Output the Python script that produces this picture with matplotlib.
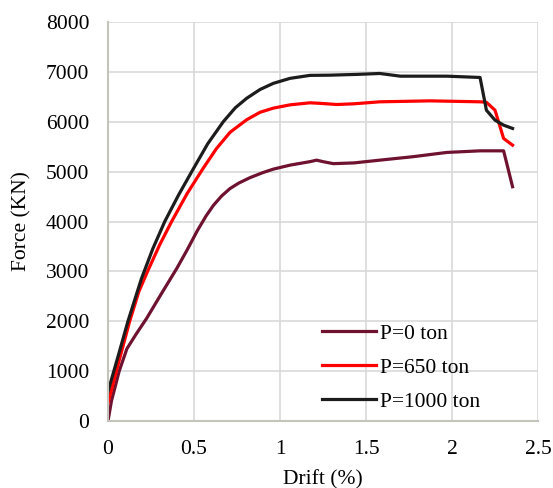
import matplotlib
matplotlib.use('Agg')
import matplotlib.pyplot as plt

# drift (%) and force (kN)
drift_p0 = [0, 0.02, 0.065, 0.11, 0.165, 0.225, 0.31, 0.40, 0.46, 0.52, 0.57, 0.612,
            0.66, 0.709, 0.76, 0.826, 0.9, 0.961, 1.058, 1.174, 1.213, 1.25, 1.31, 1.43,
            1.58, 1.775, 1.97, 2.163, 2.30, 2.352]
force_p0 = [0, 400, 1000, 1450, 1750, 2060, 2550, 3060, 3430, 3820, 4110, 4320,
            4510, 4660, 4770, 4880, 4980, 5050, 5130, 5200, 5230, 5200, 5160, 5175,
            5230, 5300, 5385, 5417, 5417, 4697]

drift_p650 = [0, 0.06, 0.126, 0.18, 0.23, 0.30, 0.37, 0.46, 0.55, 0.63, 0.71, 0.806,
              0.884, 0.961, 1.058, 1.174, 1.23, 1.33, 1.43, 1.58, 1.872, 2.163, 2.2,
              2.25, 2.30, 2.352]
force_p650 = [360, 1150, 2000, 2600, 3000, 3530, 4000, 4560, 5050, 5460, 5790, 6040,
              6190, 6273, 6339, 6380, 6370, 6346, 6360, 6400, 6419, 6400, 6390,
              6232, 5665, 5531]

drift_p1000 = [0, 0.058, 0.116, 0.194, 0.26, 0.33, 0.41, 0.49, 0.58, 0.67, 0.74, 0.806,
               0.884, 0.961, 1.058, 1.174, 1.29, 1.45, 1.58, 1.70, 1.97, 2.163, 2.2,
               2.25, 2.30, 2.352]
force_p1000 = [590, 1290, 2000, 2850, 3450, 4000, 4530, 5020, 5560, 6000, 6280, 6470,
               6647, 6770, 6870, 6930, 6934, 6950, 6968, 6914, 6914, 6888, 6232,
               6032, 5932, 5866]

labels = ['P=0 ton', 'P=650 ton', 'P=1000 ton']
colors = ['#6e1230', '#ff0000', '#1c1c1c']

plt.rcParams['font.family'] = ['Liberation Serif', 'DejaVu Serif']
plt.rcParams['font.size'] = 15.5

fig = plt.figure(figsize=(5.53, 4.88), dpi=100)
ax = fig.add_axes([0.1953, 0.1373, 0.7776, 0.8176])

series = [(drift_p0, force_p0), (drift_p650, force_p650), (drift_p1000, force_p1000)]
for (x, y), lab, c in zip(series, labels, colors):
    ax.plot(x, y, color=c, lw=2.3, label=lab, solid_joinstyle='round')

ax.set_xlim(0, 2.5)
ax.set_ylim(0, 8000)
ax.set_xticks([0, 0.5, 1, 1.5, 2, 2.5])
ax.set_xticklabels(['0', '0.5', '1', '1.5', '2', '2.5'])
ax.set_yticks(range(0, 8001, 1000))
ax.grid(True, color='#d9d9d9', lw=1.2)
ax.set_axisbelow(True)
ax.tick_params(axis='y', length=0, pad=13.5)
ax.tick_params(axis='x', length=0, pad=14)
for s in ['top', 'right']:
    ax.spines[s].set_visible(False)
for s in ['left', 'bottom']:
    ax.spines[s].set_color('#c4c4bc')
    ax.spines[s].set_linewidth(1.5)

ax.set_xlabel('Drift (%)', labelpad=7.5)
ax.set_ylabel('Force (KN)', labelpad=10)

ax.legend(loc='center left', bbox_to_anchor=(0.478, 0.134), frameon=False,
          handlelength=2.5, handletextpad=0.2, labelspacing=0.65,
          borderaxespad=0)

fig.savefig('out.png', dpi=100)
